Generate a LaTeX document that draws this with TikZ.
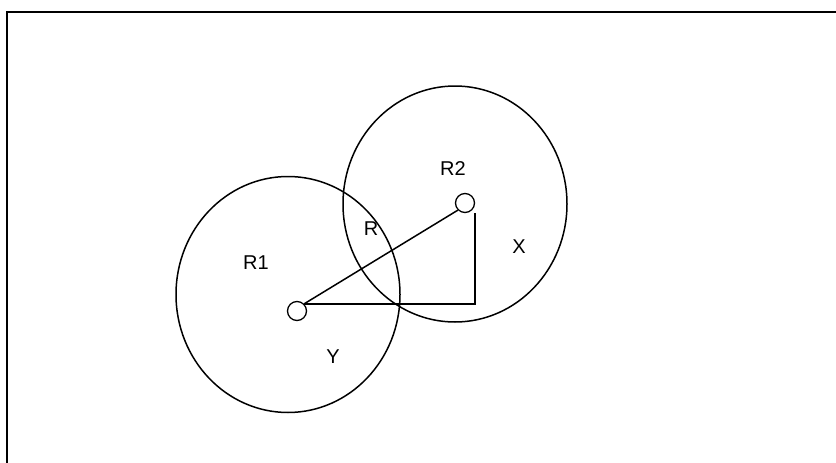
\documentclass[tikz,border=0pt]{standalone}
\usepackage{fontspec}
\setmainfont{Liberation Sans}
\usetikzlibrary{positioning}

\begin{document}
\begin{tikzpicture}[x=1pt,y=-1pt,line width=1.5pt,
    dot/.style={draw,circle,inner sep=0pt,minimum size=19pt,line width=1.3pt},
    lbl/.style={font=\fontsize{20}{23}\selectfont,inner sep=0pt}]
        \useasboundingbox (0,0) rectangle (836,463);
        \draw[line width=1.9pt] (7,463)--(7,12)--(836,12);
        \draw (288,294.5) ellipse [x radius=112,y radius=118];
        \draw (455,204) ellipse [x radius=112,y radius=118];
        \node[dot] (p1) at (297,311){};
        \node[dot] (p2) at (465,203){};
        \coordinate (rt) at (p1.north east -| p2.east);
        \draw (p1.north east)--(p2.south west);
        \draw (p1.north east)--(rt)--(rt |- p2.south);
        \node[lbl] (r1) at (256,263){R1};
        \node[lbl] (r2) at (453,169){R2};
        \node[lbl] (r) at (371,229){R};
        \node[lbl] (xx) at (519,247){X};
        \node[lbl] (yy) at (333,357){Y};
      \end{tikzpicture}
\end{document}
